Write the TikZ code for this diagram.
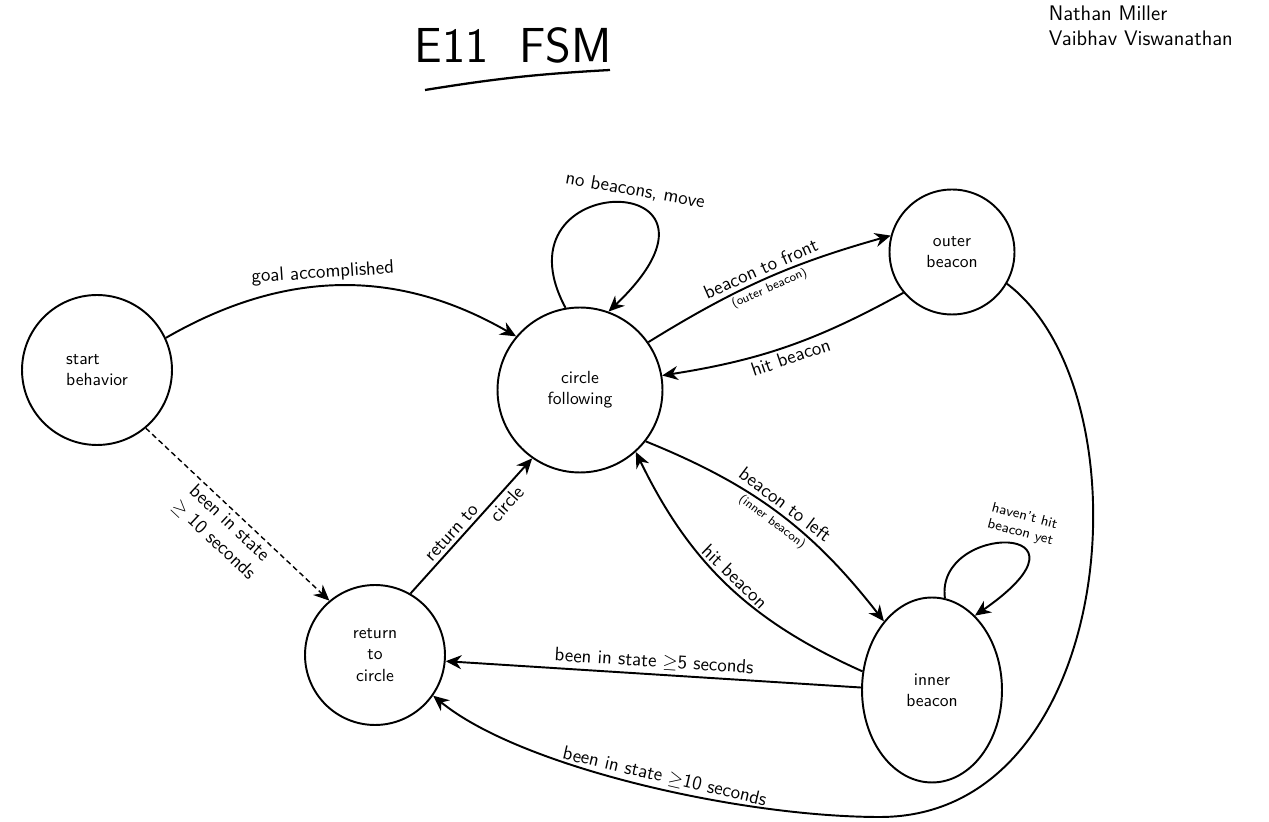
\documentclass[tikz,border=0pt]{standalone}
\usepackage{amsmath,amssymb}
\usepackage{tikz}
\usetikzlibrary{arrows.meta,shapes.geometric}

\begin{document}
\begin{tikzpicture}[x=0.02cm,y=0.02cm,
    state/.style={draw,circle,line width=1.1pt,align=left,font=\sffamily},
    trans/.style={line width=1.1pt,-{Stealth[length=9pt,width=8pt]}},
    lbl/.style={font=\sffamily\fontsize{11}{13}\selectfont,inner sep=2pt},
    sublbl/.style={font=\sffamily\scriptsize,inner sep=2pt}]
    \useasboundingbox[fill=white] (0,0) rectangle (1269,822);
    % title and names
    \node[font=\sffamily\fontsize{28}{32}\selectfont] (title) at (513,777) {E11\ \ FSM};
    \draw[line width=1.3pt] (425,732) to[bend left=3] (610,752);
    \node[lbl,font=\sffamily\large,align=left,anchor=north west] (names) at (1045,820) {Nathan Miller\\Vaibhav Viswanathan};
    % states
    \node[state,minimum size=3cm] (start) at (97,452) {start\\behavior};
    \node[state,minimum size=3.3cm,align=center] (circ) at (580,432) {circle\\following};
    \node[state,minimum size=2.5cm,align=center] (outer) at (952,570) {outer\\beacon};
    \node[state,minimum size=2.8cm,align=center] (ret) at (375,167) {return\\to\\circle};
    \node[state,ellipse,minimum width=2.8cm,minimum height=3.7cm,align=center] (inner) at (932,132) {inner\\beacon};
    % transitions
    \draw[trans] (start.25) to[out=30,in=150] node[lbl,above,sloped,pos=0.45] {goal accomplished} (circ.140);
    \draw[trans,densely dashed,line width=0.8pt] (start.-50) -- node[lbl,sloped,below,align=center] {been in state\\$\geq$ 10 seconds} (ret.130);
    \draw[trans] (circ.100) .. controls (490,655) and (760,655) .. (circ.70)
        node[lbl,pos=0.5,above,xshift=10pt,rotate=-10] {no beacons, move};
    \draw[trans] (circ.35) to[bend left=8] node[lbl,sloped,above] {beacon to front}
        node[sublbl,sloped,below] {(outer beacon)} (outer.165);
    \draw[trans] (outer.220) to[bend left=10] node[lbl,sloped,below] {hit beacon} (circ.10);
    \draw[trans] (circ.-38) to[bend left=15] node[lbl,sloped,above] {beacon to left}
        node[sublbl,sloped,below] {(inner beacon)} (inner.125);
    \draw[trans] (inner.165) to[bend left=20] node[lbl,sloped,above] {hit beacon} (circ.-48);
    \draw[trans] (inner.82) .. controls (935,300) and (1110,300) .. (inner.60)
        node[lbl,font=\sffamily\footnotesize,align=center,pos=0.5,above,xshift=6pt,rotate=-15] {haven't hit\\beacon yet};
    \draw[trans] (ret.60) -- node[lbl,sloped,above,pos=0.4] {return to}
        node[lbl,sloped,below,pos=0.72] {circle} (circ.-125);
    \draw[trans] (inner.178) -- node[lbl,sloped,above] {been in state $\geq$5 seconds} (ret.-5);
    \draw[trans] (outer.-30) .. controls (1150,430) and (1120,5) .. (880,5)
        .. controls (740,5) and (520,55) .. (ret.-35)
        node[lbl,pos=0.45,sloped,above] {been in state $\geq$10 seconds};
\end{tikzpicture}
\end{document}
